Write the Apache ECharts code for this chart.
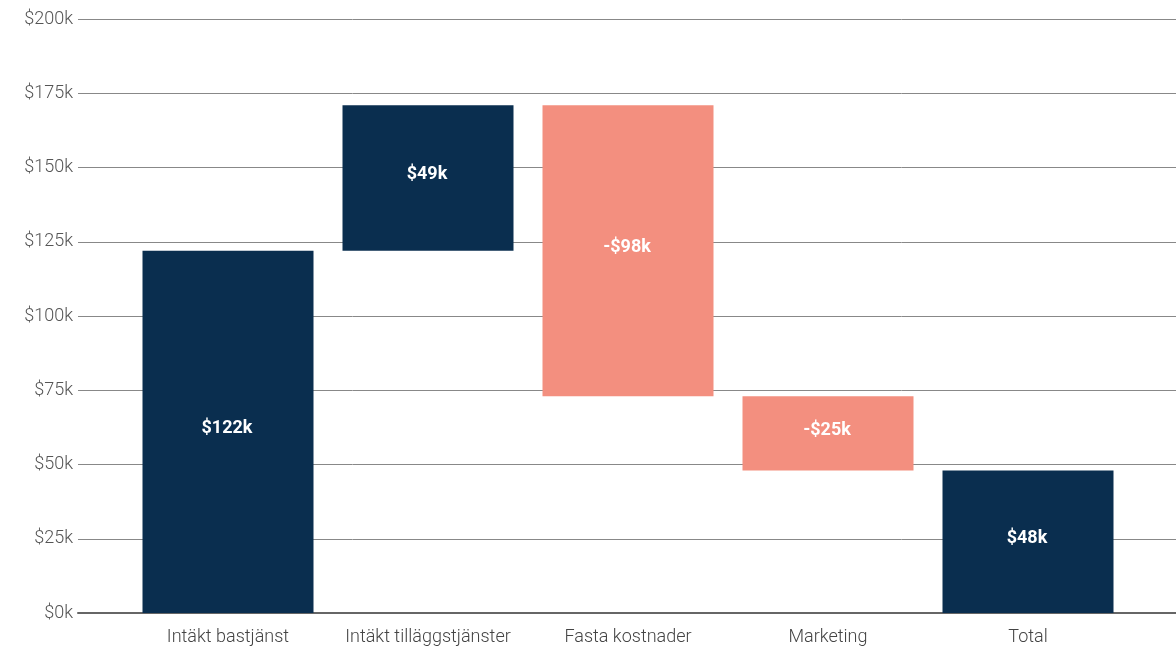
<!DOCTYPE html>
<html>
<head>
<meta charset="utf-8">
<script src="https://cdn.jsdelivr.net/npm/echarts@6/dist/echarts.min.js"></script>
<style>
  html, body { margin: 0; padding: 0; background: #fff; }
  #waterfall { width: 1176px; height: 648px; }
</style>
</head>
<body>
<div id="waterfall"></div>
<script>
// data (k$)
var categories = ["Intäkt bastjänst", "Intäkt tilläggstjänster", "Fasta kostnader", "Marketing", "Total"];
var changes = [122, 49, -98, -25, 48];
var isTotal = [false, false, false, false, true];
var yTicks = [0, 25, 50, 75, 100, 125, 150, 175, 200];

var NAVY = "#0a2e4f";
var SALMON = "#f38f7f";

// waterfall bases
var baseData = [];
var barData = [];
var running = 0;
changes.forEach(function (c, i) {
  if (isTotal[i]) {
    baseData.push(0);
    barData.push({ value: c, itemStyle: { color: NAVY } });
    return;
  }
  if (c >= 0) {
    baseData.push(running);
    barData.push({ value: c, itemStyle: { color: NAVY } });
  } else {
    baseData.push(running + c);
    barData.push({ value: -c, itemStyle: { color: SALMON } });
  }
  running += c;
});

var fmt = function (v) { return (v < 0 ? "-$" : "$") + Math.abs(v) + "k"; };

var chart = echarts.init(document.getElementById("waterfall"));
chart.setOption({
  animation: false,
  textStyle: { fontFamily: "Roboto" },
  grid: [
    // bars
    { left: 128, right: 48, top: 19, bottom: 35 },
    // wider grid only for gridlines + y labels
    { left: 78, right: 0, top: 19, bottom: 35 }
  ],
  xAxis: [
    {
      gridIndex: 0,
      type: "category",
      data: categories,
      axisLine: { show: false },
      axisTick: { show: false },
      axisLabel: { color: "#444", fontSize: 18, fontWeight: 300, margin: 15, interval: 0 }
    },
    {
      gridIndex: 1,
      type: "value",
      min: 0, max: 1,
      axisLine: { show: true, onZero: false, lineStyle: { color: "#666", width: 2 } },
      axisTick: { show: false },
      axisLabel: { show: false },
      splitLine: { show: false }
    }
  ],
  yAxis: [
    {
      gridIndex: 0,
      type: "value",
      min: yTicks[0], max: yTicks[yTicks.length - 1], interval: 25,
      show: false
    },
    {
      gridIndex: 1,
      type: "value",
      min: yTicks[0], max: yTicks[yTicks.length - 1], interval: 25,
      axisLine: { show: false },
      axisTick: { show: false },
      axisLabel: {
        color: "#555", fontSize: 18, fontWeight: 300, margin: 5,
        formatter: function (v) { return "$" + v + "k"; }
      },
      splitLine: { lineStyle: { color: "#888", width: 1 } }
    }
  ],
  series: [
    {
      name: "base",
      type: "bar",
      stack: "wf",
      xAxisIndex: 0, yAxisIndex: 0,
      barWidth: 171,
      itemStyle: { color: "transparent" },
      silent: true,
      data: baseData
    },
    {
      name: "value",
      type: "bar",
      stack: "wf",
      xAxisIndex: 0, yAxisIndex: 0,
      barWidth: 171,
      z: 5,
      label: {
        show: true,
        position: "inside",
        color: "#fff",
        fontWeight: "bold",
        fontSize: 18,
        offset: [-1, -3],
        formatter: function (p) { return fmt(changes[p.dataIndex]); }
      },
      data: barData
    }
  ]
});
</script>
</body>
</html>
